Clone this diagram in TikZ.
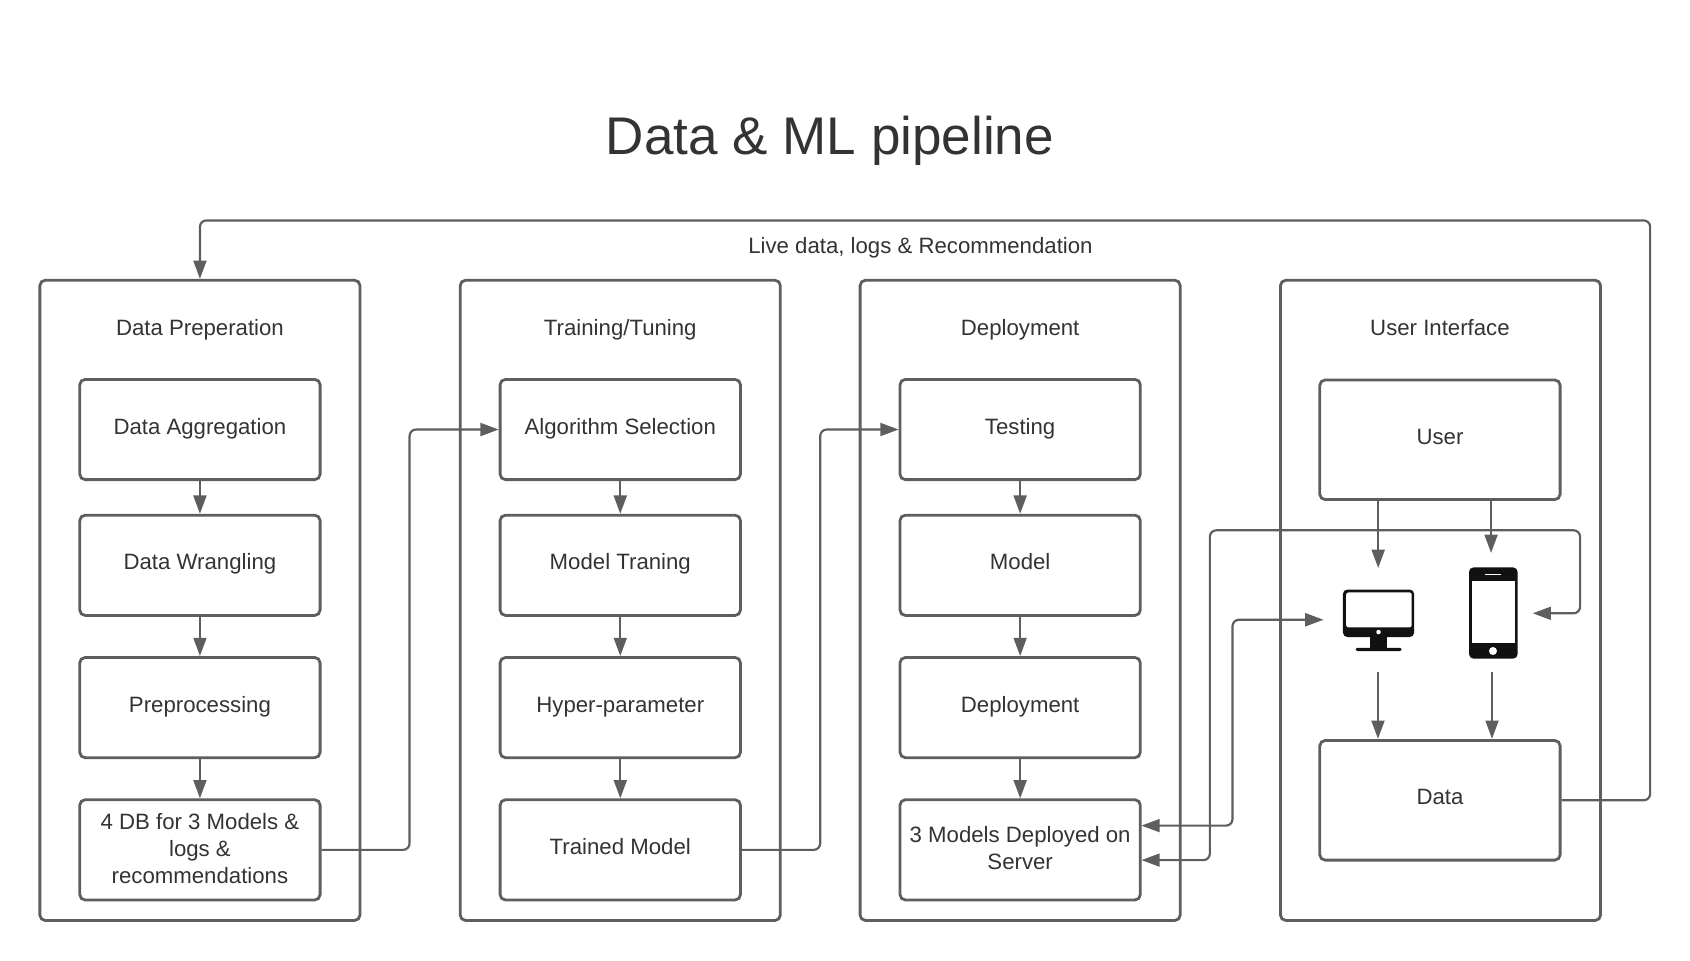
\documentclass[tikz,border=0pt]{standalone}
\usepackage{fontspec}
\setmainfont{Liberation Sans}
\usetikzlibrary{arrows.meta}
\definecolor{linecol}{HTML}{5E5E5E}
\definecolor{textcol}{HTML}{333333}
\definecolor{iconcol}{HTML}{111111}
\newcommand{\btext}[2][0.4pt]{\raisebox{#1}[\height][\depth]{\begin{tabular}{@{}c@{}}#2\end{tabular}}}
\tikzset{
  x=0.5pt,y=-0.5pt,
  groupbox/.style={draw=linecol,line width=1.3pt,rounded corners=2.5pt,inner sep=0pt,minimum width=148.5pt,minimum height=297pt},
  itembox/.style={draw=linecol,line width=1.3pt,rounded corners=2.5pt,inner sep=0pt,minimum width=111.5pt,minimum height=46.5pt,text=textcol,font=\fontsize{10.3}{12.6}\selectfont},
  uibox/.style={itembox,minimum height=55.5pt},
  heading/.style={text=textcol,font=\fontsize{10.3}{12.6}\selectfont,inner sep=0pt,text height=7.5pt,text depth=2pt},
  conn/.style={draw=linecol,line width=1pt,-{Triangle[length=8.5pt,width=6pt]},rounded corners=3pt},
  twoway/.style={draw=linecol,line width=1pt,{Triangle[length=8.5pt,width=6pt]}-{Triangle[length=8.5pt,width=6pt]},rounded corners=3pt},
  icon/.style={fill=iconcol,draw=none},
  iconhole/.style={fill=white,draw=none}
}
\begin{document}
\begin{tikzpicture}
\useasboundingbox (0,0) rectangle (1568,890.7);

\node[text=textcol,font=\fontsize{24.6}{30}\selectfont,inner sep=0pt] (title) at (770,130.5) {Data \& ML pipeline};

% groups
\node[groupbox] (g1) at (185.5,557) {};
\node[groupbox] (g2) at (575.5,557) {};
\node[groupbox] (g3) at (946.5,557) {};
\node[groupbox] (g4) at (1336.5,557) {};
\node[heading] (h1) at (185.5,306) {Data Preperation};
\node[heading] (h2) at (575.5,306) {Training/Tuning};
\node[heading] (h3) at (946.5,306) {Deployment};
\node[heading] (h4) at (1336,306) {User Interface};
\node[heading] (live) at (854,230) {Live data, logs \& Recommendation};

% column 1
\node[itembox] (a1) at (185.5,398.5) {\btext{Data Aggregation}};
\node[itembox] (a2) at (185.5,524.5) {\btext{Data Wrangling}};
\node[itembox] (a3) at (185.5,656.5) {\btext{Preprocessing}};
\node[itembox] (a4) at (185.5,788.5) {\btext[-0.4pt]{4 DB for 3 Models \&\\logs \&\\recommendations}};
% column 2
\node[itembox] (b1) at (575.5,398.5) {\btext{Algorithm Selection}};
\node[itembox] (b2) at (575.5,524.5) {\btext{Model Traning}};
\node[itembox] (b3) at (575.5,656.5) {\btext{Hyper-parameter}};
\node[itembox] (b4) at (575.5,788.5) {\btext{Trained Model}};
% column 3
\node[itembox] (c1) at (946.5,398.5) {\btext{Testing}};
\node[itembox] (c2) at (946.5,524.5) {\btext{Model}};
\node[itembox] (c3) at (946.5,656.5) {\btext{Deployment}};
\node[itembox] (c4) at (946.5,788.5) {\btext[-0.4pt]{3 Models Deployed on\\Server}};
% column 4
\node[uibox] (user) at (1336,408) {\btext{User}};
\node[uibox] (data) at (1336,742.5) {\btext{Data}};

% monitor icon
\fill[icon,rounded corners=2pt] (1246,547) rectangle (1312,591);
\fill[iconhole,rounded corners=1pt] (1249,549.7) rectangle (1309.8,582);
\fill[iconhole] (1279,586.4) circle (2.1);
\fill[icon] (1271,591) rectangle (1287.2,601);
\fill[icon,rounded corners=0.7pt] (1257.8,601) rectangle (1300.5,604);
% phone icon
\fill[icon,rounded corners=2pt] (1363,526.5) rectangle (1408,611);
\fill[iconhole] (1365.6,538.8) rectangle (1405.2,596.9);
\fill[iconhole] (1378,532.7) rectangle (1392.7,533.7);
\fill[iconhole] (1385.2,604) circle (3.7);

% free ends
\coordinate (pcin) at (1278.7,527);
\coordinate (phonein) at (1383.4,513);
\coordinate (pcout) at (1278.5,623.5);
\coordinate (phoneout) at (1384.3,623.5);
\coordinate (pcdata) at (1278.5,685.5);
\coordinate (phonedata) at (1384.3,685.5);
\coordinate (pcuser) at (1278.7,463);
\coordinate (phoneuser) at (1383.4,463);
\coordinate (pcside) at (1228,575);
\coordinate (phoneside) at (1422,569);
\coordinate (srvA) at (1059,766);
\coordinate (srvB) at (1059,798);

% vertical flow
\foreach \p/\q in {a1/a2,a2/a3,a3/a4,b1/b2,b2/b3,b3/b4,c1/c2,c2/c3,c3/c4}
  \draw[conn] (\p.south) -- (\q.north);
\draw[conn] (pcuser) -- (pcin);
\draw[conn] (phoneuser) -- (phonein);
\draw[conn] (pcout) -- (pcdata);
\draw[conn] (phoneout) -- (phonedata);

% between columns
\draw[conn] (a4.east) -- (380,788.5) -- (380,398.5) -- (b1.west);
\draw[conn] (b4.east) -- (761,788.5) -- (761,398.5) -- (c1.west);
\draw[conn] (data.east) -- (1531,742.5) -- (1531,204.5) -- (185.5,204.5) -- (g1.north);

% two-way links
\draw[twoway] (srvA) -- (1143.5,766) -- (1143.5,575) -- (pcside);
\draw[twoway] (srvB) -- (1122.5,798) -- (1122.5,492) -- (1466,492) -- (1466,569) -- (phoneside);
\end{tikzpicture}
\end{document}
